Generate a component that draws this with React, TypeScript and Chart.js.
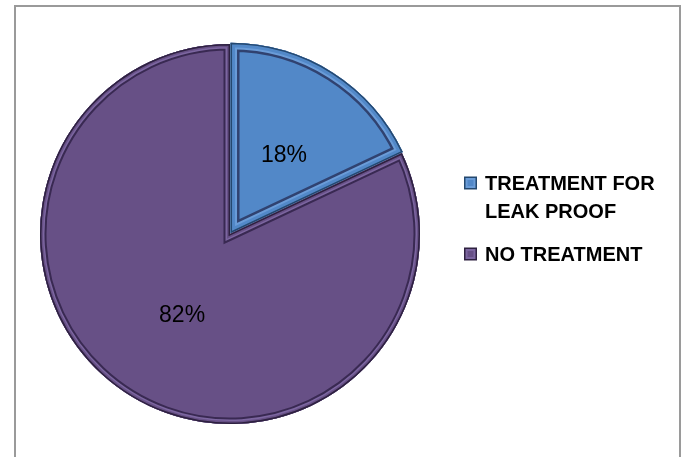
import React, { useEffect, useRef } from "react";
import { Chart, registerables } from "chart.js";
Chart.register(...registerables);

const categories = ["TREATMENT FOR LEAK PROOF", "NO TREATMENT"];
const values = [18, 82];
const fillColors = ["#5288C8", "#675086"];
const edgeColors = ["#24486F", "#2E2140"];
const lightColors = ["#6A9CD8", "#7C66A0"];
const explode = [4, 0];

function wrapText(ctx: CanvasRenderingContext2D, text: string, maxW: number): string[] {
  const words = text.split(" ");
  const lines: string[] = [];
  let cur = "";
  for (const w of words) {
    const t = cur ? cur + " " + w : w;
    if (ctx.measureText(t).width > maxW && cur) {
      lines.push(cur);
      cur = w;
    } else cur = t;
  }
  if (cur) lines.push(cur);
  return lines;
}

function arcGeom(arc: any) {
  const p = arc.getProps(["x", "y", "startAngle", "endAngle", "outerRadius", "circumference"], true);
  const off = arc.options.offset || 0;
  const mid = (p.startAngle + p.endAngle) / 2;
  const fix = 1 - Math.sin(Math.min(Math.PI, p.circumference || 0));
  return {
    x: p.x,
    y: p.y,
    cx: p.x + Math.cos(mid) * off / 4,
    cy: p.y + Math.sin(mid) * off / 4,
    r: p.outerRadius + off * fix,
    r0: p.outerRadius,
    s: p.startAngle,
    e: p.endAngle,
    mid,
  };
}

const framePlugin = {
  id: "frame",
  beforeDraw(chart: any) {
    const ctx = chart.ctx;
    ctx.save();
    ctx.fillStyle = "#ffffff";
    ctx.fillRect(0, 0, chart.width, chart.height);
    ctx.strokeStyle = "#9a9a9a";
    ctx.lineWidth = 2;
    ctx.strokeRect(15, 6, 665, 480);
    ctx.restore();
  },
};

const bevelW = [
  [18, 13, 9, 3],
  [13, 9, 6, 3],
];

const bevelPlugin = {
  id: "bevel",
  afterDatasetsDraw(chart: any) {
    const ctx = chart.ctx;
    const meta = chart.getDatasetMeta(0);
    meta.data.forEach((arc: any, i: number) => {
      const g = arcGeom(arc);
      const w = bevelW[i];
      ctx.save();
      ctx.beginPath();
      ctx.moveTo(g.cx, g.cy);
      ctx.arc(g.cx, g.cy, g.r, g.s, g.e);
      ctx.closePath();
      ctx.clip();
      ctx.lineJoin = "miter";
      ctx.strokeStyle = "rgba(20,10,40,0.55)";
      ctx.lineWidth = w[0];
      ctx.stroke();
      ctx.strokeStyle = lightColors[i];
      ctx.lineWidth = w[1];
      ctx.stroke();
      ctx.strokeStyle = fillColors[i];
      ctx.lineWidth = w[2];
      ctx.stroke();
      ctx.strokeStyle = edgeColors[i];
      ctx.lineWidth = w[3];
      ctx.stroke();
      ctx.restore();
    });
  },
};

const labelPlugin = {
  id: "pctLabels",
  afterDraw(chart: any) {
    const ctx = chart.ctx;
    const meta = chart.getDatasetMeta(0);
    const data = chart.data.datasets[0].data as number[];
    const total = data.reduce((a, b) => a + b, 0);
    ctx.save();
    ctx.fillStyle = "#000000";
    ctx.font = "23px 'Liberation Sans', Arial, sans-serif";
    ctx.textAlign = "center";
    ctx.textBaseline = "middle";
    meta.data.forEach((arc: any, i: number) => {
      const g = arcGeom(arc);
      const rr = g.r0 * 0.5;
      const x = g.x + Math.cos(g.mid) * rr + 3;
      const y = g.y + Math.sin(g.mid) * rr + 1.5;
      ctx.fillText(Math.round((data[i] / total) * 100) + "%", x, y);
    });

    // legend
    ctx.font = "bold 20px 'Liberation Sans', Arial, sans-serif";
    ctx.textAlign = "left";
    const labels = chart.data.labels as string[];
    let y = 183;
    const lineH = 28;
    labels.forEach((lab: string, i: number) => {
      const lines = wrapText(ctx, lab, 180);
      const mx = 464, ms = 13;
      ctx.fillStyle = edgeColors[i];
      ctx.fillRect(mx, y - ms / 2, ms, ms);
      ctx.fillStyle = lightColors[i];
      ctx.fillRect(mx + 1.5, y - ms / 2 + 1.5, ms - 3, ms - 3);
      ctx.fillStyle = fillColors[i];
      ctx.fillRect(mx + 3.5, y - ms / 2 + 3.5, ms - 7, ms - 7);
      ctx.fillStyle = "#000000";
      lines.forEach((ln, k) => {
        ctx.fillText(ln, 485, y + k * lineH + 1);
      });
      y += lines.length * lineH + 15;
    });
    ctx.restore();
  },
};

export default function App() {
  const ref = useRef<HTMLCanvasElement | null>(null);
  useEffect(() => {
    if (!ref.current) return;
    const chart = new Chart(ref.current, {
      type: "pie",
      data: {
        labels: categories,
        datasets: [
          {
            data: values,
            backgroundColor: fillColors,
            borderColor: edgeColors,
            borderWidth: 0,
            offset: explode,
            radius: 190,
          } as any,
        ],
      },
      options: {
        responsive: false,
        animation: false,
        events: [],
        layout: { padding: { left: 0, right: 224, top: 11, bottom: 0 } },
        plugins: {
          legend: { display: false },
          tooltip: { enabled: false },
        },
      },
      plugins: [framePlugin, bevelPlugin, labelPlugin],
    });
    return () => chart.destroy();
  }, []);
  return (
    <div style={{ position: "fixed", left: 0, top: 0, width: 684, height: 457, background: "#fff" }}>
      <canvas ref={ref} width={684} height={457} style={{ display: "block" }} />
    </div>
  );
}
